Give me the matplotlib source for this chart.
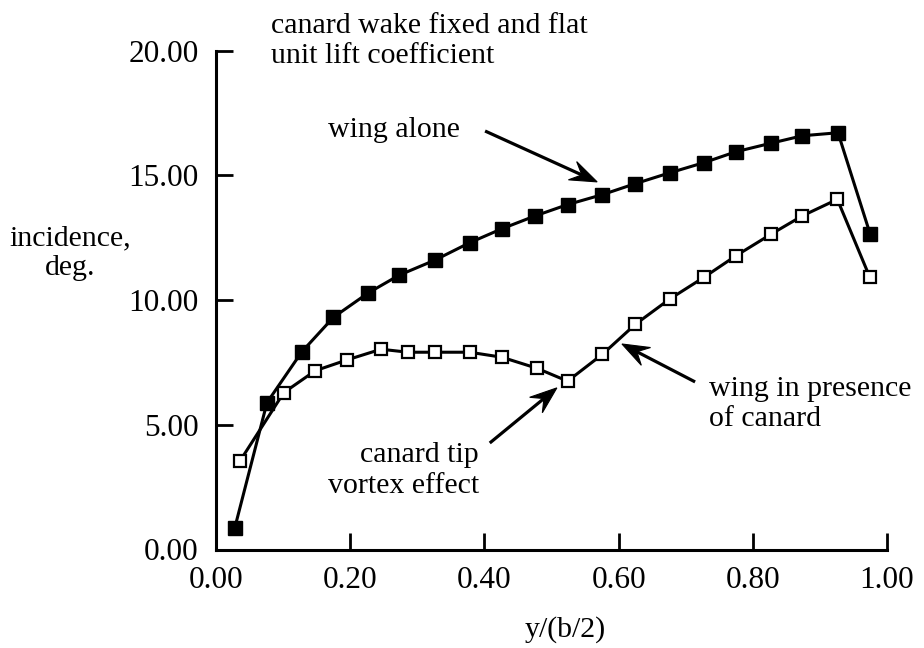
import numpy as np
import matplotlib
matplotlib.use("Agg")
import matplotlib.pyplot as plt
from matplotlib.patches import Polygon
from matplotlib.transforms import IdentityTransform

# Spanwise stations and incidence (deg) for the two configurations
span_alone = [0.028, 0.076, 0.128, 0.175, 0.227, 0.273, 0.326, 0.378, 0.426, 0.476,
              0.524, 0.576, 0.625, 0.677, 0.727, 0.775, 0.827, 0.874, 0.927, 0.975]
inc_alone = [0.87, 5.89, 7.93, 9.31, 10.29, 11.00, 11.60, 12.30, 12.86, 13.38,
             13.83, 14.23, 14.67, 15.11, 15.51, 15.95, 16.29, 16.59, 16.71, 12.64]

span_canard = [0.036, 0.101, 0.148, 0.195, 0.246, 0.286, 0.326, 0.378, 0.426, 0.478,
               0.524, 0.576, 0.625, 0.676, 0.727, 0.775, 0.827, 0.874, 0.926, 0.974]
inc_canard = [3.56, 6.29, 7.17, 7.60, 8.03, 7.91, 7.91, 7.91, 7.71, 7.27,
              6.75, 7.83, 9.03, 10.04, 10.91, 11.78, 12.64, 13.38, 14.04, 10.94]

x_ticks = [0.0, 0.2, 0.4, 0.6, 0.8, 1.0]
y_ticks = [0.0, 5.0, 10.0, 15.0, 20.0]

FONT = "Liberation Serif"
FS = 21.5
TICK_FS = 22.5
plt.rcParams["font.family"] = [FONT, "DejaVu Serif"]
plt.rcParams["font.size"] = FS

W, H = 924, 648
fig = plt.figure(figsize=(W / 100, H / 100), dpi=100)
ax = fig.add_axes([216 / W, 1 - 549.5 / H, (887 - 216) / W, (549.5 - 50.7) / H])

lw = 2.2
ax.plot(span_alone, inc_alone, color="black", lw=lw, marker="s", ms=9.5,
        mfc="black", mec="black", zorder=3, clip_on=False)
ax.plot(span_canard, inc_canard, color="black", lw=lw, marker="s", ms=8,
        mfc="white", mec="black", mew=1.6, zorder=3, clip_on=False)

ax.set_xlim(0, 1)
ax.set_ylim(0, 20)
ax.set_xticks(x_ticks)
ax.set_yticks(y_ticks)
ax.set_xticklabels([f"{v:.2f}" for v in x_ticks])
ax.set_yticklabels([f"{v:.2f}" for v in y_ticks])

for side in ("top", "right"):
    ax.spines[side].set_visible(False)
for side in ("left", "bottom"):
    ax.spines[side].set_linewidth(2.2)
    ax.spines[side].set_capstyle("projecting")
ax.tick_params(axis="both", direction="in", length=12.2, width=2.0, labelsize=TICK_FS)
ax.tick_params(axis="y", pad=12.5)
ax.tick_params(axis="x", pad=12)

# Axis titles
fig.text(70 / W, 1 - 245 / H, "incidence,", ha="center", va="baseline", fontsize=FS)
fig.text(70 / W, 1 - 275 / H, "deg.", ha="center", va="baseline", fontsize=FS)
fig.text(565 / W, 1 - 630 / H, "y/(b/2)", ha="center", va="center", fontsize=FS)

# Case description
ax.text(0.082, 20.71, "canard wake fixed and flat", ha="left", va="baseline", fontsize=FS)
ax.text(0.082, 19.51, "unit lift coefficient", ha="left", va="baseline", fontsize=FS)


def pointer(tail, tip, length=27.0, half_width=10.0, notch=0.62):
    """Straight pointer with a swept-back (barbed) head, sized in pixels."""
    p0 = ax.transData.transform(tail)
    p1 = ax.transData.transform(tip)
    d = p1 - p0
    u = d / np.hypot(*d)
    n = np.array([-u[1], u[0]])
    base = p1 - u * length
    back = p1 - u * length * notch
    head = [p1, base + n * half_width, back, base - n * half_width]
    ax.add_artist(Polygon(head, closed=True, facecolor="black", edgecolor="black",
                          lw=0.8, transform=IdentityTransform(), zorder=4))
    ax.plot([p0[0], back[0] + u[0] * 2], [p0[1], back[1] + u[1] * 2], color="black",
            lw=2.3, solid_capstyle="butt", transform=IdentityTransform(), zorder=4)


# Curve labels with pointers
ax.text(0.167, 16.54, "wing alone", ha="left", va="baseline", fontsize=FS)
pointer((0.401, 16.78), (0.568, 14.74))

ax.text(0.392, 3.51, "canard tip", ha="right", va="baseline", fontsize=FS)
ax.text(0.392, 2.27, "vortex effect", ha="right", va="baseline", fontsize=FS)
pointer((0.408, 4.27), (0.508, 6.48))

ax.text(0.735, 6.15, "wing in presence", ha="left", va="baseline", fontsize=FS)
ax.text(0.735, 4.95, "of canard", ha="left", va="baseline", fontsize=FS)
pointer((0.714, 6.72), (0.605, 8.24))

fig.savefig("out.png", dpi=100, facecolor="white")
